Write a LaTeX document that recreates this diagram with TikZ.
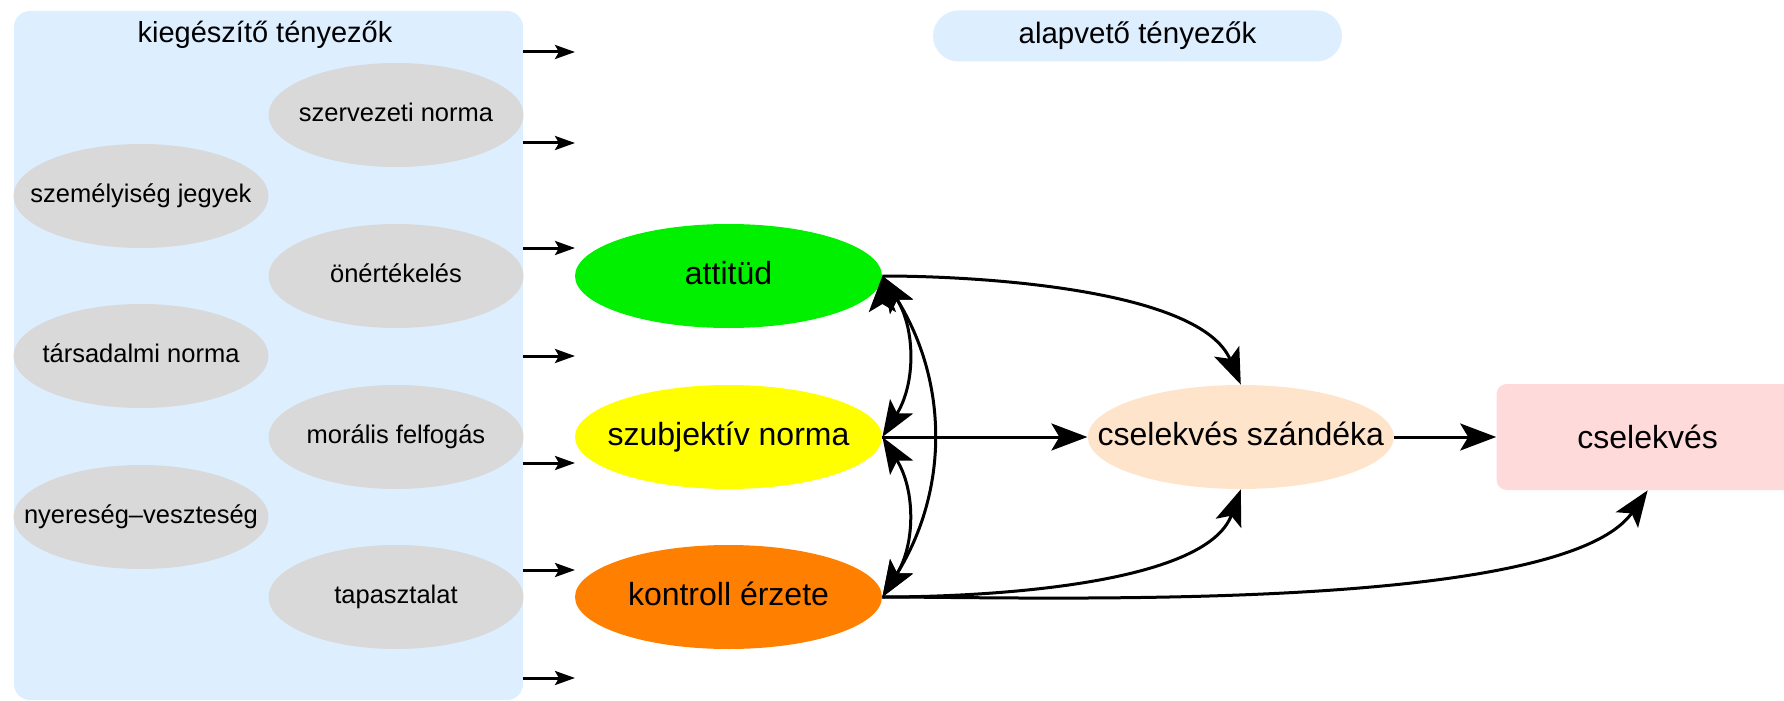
\documentclass[tikz,border=0pt]{standalone}
\usepackage{fontspec}
\setmainfont{Liberation Sans}
\usepackage{tikz}
\usetikzlibrary{shapes.geometric, positioning, arrows.meta}
\definecolor{panelblue}{RGB}{221,238,255}
\definecolor{factorgray}{RGB}{217,217,217}
\definecolor{attgreen}{RGB}{0,240,0}
\definecolor{normyellow}{RGB}{255,255,0}
\definecolor{ctrlorange}{RGB}{255,128,0}
\definecolor{intentpeach}{RGB}{255,228,204}
\definecolor{actpink}{RGB}{255,218,218}
\tikzset{>={Stealth[length=18pt, width=13.5pt, inset=4pt]}}
\tikzset{
  panel/.style={fill=panelblue, rounded corners=8pt, inner sep=0pt},
  factor/.style={ellipse, fill=factorgray, inner sep=0pt, minimum width=127.5pt,
    minimum height=52pt, text height=9pt, text depth=2.5pt, font=\fontsize{12.75}{15}\selectfont},
  core/.style={ellipse, inner sep=0pt, minimum width=153.5pt, minimum height=52pt,
    text height=11.5pt, text depth=3pt, font=\fontsize{16}{19}\selectfont},
  link/.style={->, line width=1.5pt},
  feed/.style={-{Stealth[length=10pt, width=7pt, inset=2pt]}, line width=1.5pt}
}

\begin{document}
\begin{tikzpicture}[x=0.5pt, y=-0.5pt]
\useasboundingbox (0,0) rectangle (1784,701);
% kiegeszito tenyezok
\node[panel, minimum width=254.5pt, minimum height=344.5pt] at (268.5,355.5) (kieg) {};
\node[font=\fontsize{14.5}{17}\selectfont] at (265,35) (kiegcim) {kiegészítő tényezők};
\node[factor] at (396,115) (szerv) {\makebox[0pt]{szervezeti norma}};
\node[factor] at (141,196) (szemely) {\makebox[0pt]{személyiség jegyek}};
\node[factor] at (396,276) (onert) {\makebox[0pt]{önértékelés}};
\node[factor] at (141,356) (tars) {\makebox[0pt]{társadalmi norma}};
\node[factor] at (396,437) (moral) {\makebox[0pt]{morális felfogás}};
\node[factor] at (141,517) (nyer) {\makebox[0pt]{nyereség–veszteség}};
\node[factor] at (396,597) (tapasz) {\makebox[0pt]{tapasztalat}};
\coordinate (f1) at (575,52);
\coordinate (f2) at (575,143);
\coordinate (f3) at (575,248);
\coordinate (f4) at (575,356);
\coordinate (f5) at (575,463);
\coordinate (f6) at (575,570);
\coordinate (f7) at (575,678);
\draw[feed] (kieg.east |- f1) -- (f1);
\draw[feed] (kieg.east |- f2) -- (f2);
\draw[feed] (kieg.east |- f3) -- (f3);
\draw[feed] (kieg.east |- f4) -- (f4);
\draw[feed] (kieg.east |- f5) -- (f5);
\draw[feed] (kieg.east |- f6) -- (f6);
\draw[feed] (kieg.east |- f7) -- (f7);
% alapveto tenyezok
\node[panel, rounded corners=12.75pt, minimum width=204.5pt, minimum height=25.5pt,
  font=\fontsize{14.75}{17}\selectfont] at (1137.5,36) (alap) {alapvető tényezők};
\node[core, fill=attgreen] at (728.5,276) (att) {\makebox[0pt]{attitüd}};
\node[core, fill=normyellow] at (728.5,437) (szub) {\makebox[0pt]{szubjektív norma}};
\node[core, fill=ctrlorange] at (728.5,597) (kontr) {\makebox[0pt]{kontroll érzete}};
\node[core, fill=intentpeach, minimum width=153pt, right=102.5pt of szub] (szand) {\makebox[0pt]{cselekvés szándéka}};
\node[fill=actpink, rounded corners=5pt, minimum width=151pt, minimum height=53pt,
  font=\fontsize{16}{19}\selectfont, right=51pt of szand] (cselek) {cselekvés};
\draw[link] (szub) edge (szand)
(szand) edge (cselek)
(att.east) edge[out=0, in=113, looseness=0.7] (szand.north)
(kontr.east) edge[out=0, in=-110, looseness=0.7] (szand.south)
(kontr.east) edge[out=0, in=-125, looseness=0.5] (cselek.south)
(att.east) edge[<->, bend left=32] (szub.east)
(szub.east) edge[<->, bend left=32] (kontr.east)
(att.east) edge[<->, bend left=32] (kontr.east);
\end{tikzpicture}
\end{document}
